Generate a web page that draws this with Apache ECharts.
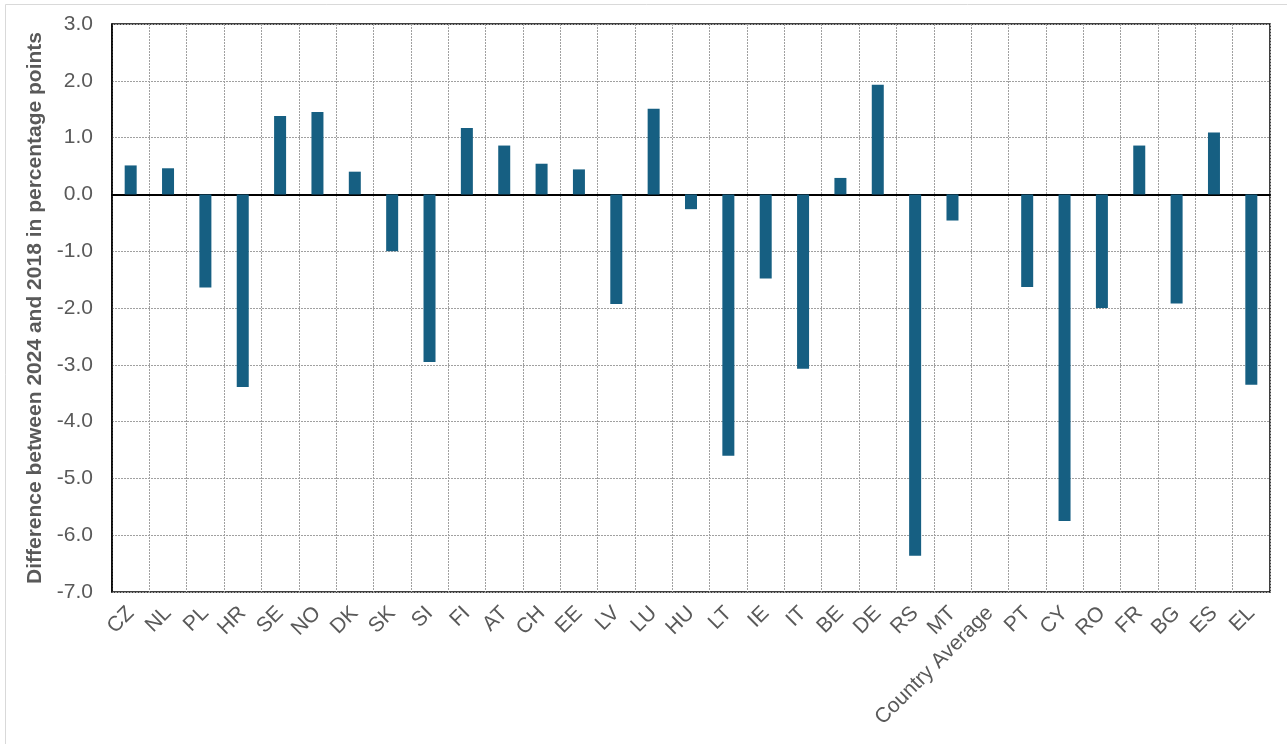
<!DOCTYPE html>
<html>
<head>
<meta charset="utf-8">
<script src="https://cdn.jsdelivr.net/npm/echarts@6/dist/echarts.min.js"></script>
<style>
  html, body { margin: 0; padding: 0; background: #ffffff; }
  #chart { width: 1287px; height: 744px; }
</style>
</head>
<body>
<div id="chart"></div>
<script>
// Countries, ordered as on the axis
const countries = ['CZ', 'NL', 'PL', 'HR', 'SE', 'NO', 'DK', 'SK', 'SI', 'FI', 'AT', 'CH', 'EE', 'LV', 'LU', 'HU',
  'LT', 'IE', 'IT', 'BE', 'DE', 'RS', 'MT', 'Country Average', 'PT', 'CY', 'RO', 'FR', 'BG', 'ES', 'EL'];

// Change 2018 -> 2024, percentage points (no bar for the country average)
const differences = [0.51, 0.46, -1.64, -3.39, 1.38, 1.45, 0.40, -1.00, -2.95, 1.17, 0.86, 0.54, 0.44, -1.93, 1.51, -0.26,
  -4.60, -1.48, -3.07, 0.29, 1.93, -6.36, -0.46, null, -1.63, -5.75, -2.00, 0.86, -1.92, 1.09, -3.35];

const yTicks = { min: -7, max: 3, step: 1 };
const yAxisTitle = 'Difference between 2024 and 2018 in percentage points';

const textColor = '#595959';
const fontFamily = 'Liberation Sans, Arial, sans-serif';
const chart = echarts.init(document.getElementById('chart'), null, { renderer: 'canvas' });

chart.setOption({
  animation: false,
  backgroundColor: '#ffffff',
  graphic: [{
    type: 'rect',
    shape: { x: 5.5, y: 4.5, width: 1290, height: 750 },
    style: { fill: 'none', stroke: '#d9d9d9', lineWidth: 1 },
    silent: true,
    z: -1
  }],
  grid: {
    left: 112, right: 17, top: 24, bottom: 152,
    show: true,
    borderColor: '#000000',
    borderWidth: 1.5,
    backgroundColor: 'transparent'
  },
  xAxis: {
    type: 'category',
    data: countries,
    boundaryGap: true,
    axisLine: { onZero: true, lineStyle: { color: '#000000', width: 2 } },
    axisTick: { show: false },
    splitLine: { show: true, interval: 0, lineStyle: { color: '#a0a0a0', type: [2, 1], width: 1 } },
    axisLabel: {
      interval: 0,
      rotate: 45,
      margin: 18,
      color: textColor,
      fontFamily: fontFamily,
      fontSize: 21
    }
  },
  yAxis: {
    type: 'value',
    min: yTicks.min,
    max: yTicks.max,
    interval: yTicks.step,
    name: yAxisTitle,
    nameLocation: 'middle',
    nameGap: 60,
    nameTextStyle: {
      color: textColor,
      fontFamily: fontFamily,
      fontSize: 21,
      fontWeight: 'bold'
    },
    axisLine: { show: true, lineStyle: { color: '#000000', width: 1.5 } },
    axisTick: { show: false },
    splitLine: { show: true, lineStyle: { color: '#a0a0a0', type: [2, 1], width: 1 } },
    axisLabel: {
      margin: 19,
      color: textColor,
      fontFamily: fontFamily,
      fontSize: 21,
      formatter: v => v.toFixed(1)
    }
  },
  series: [{
    type: 'bar',
    data: differences,
    barWidth: 12,
    itemStyle: { color: '#165f82' }
  }]
});
</script>
</body>
</html>
